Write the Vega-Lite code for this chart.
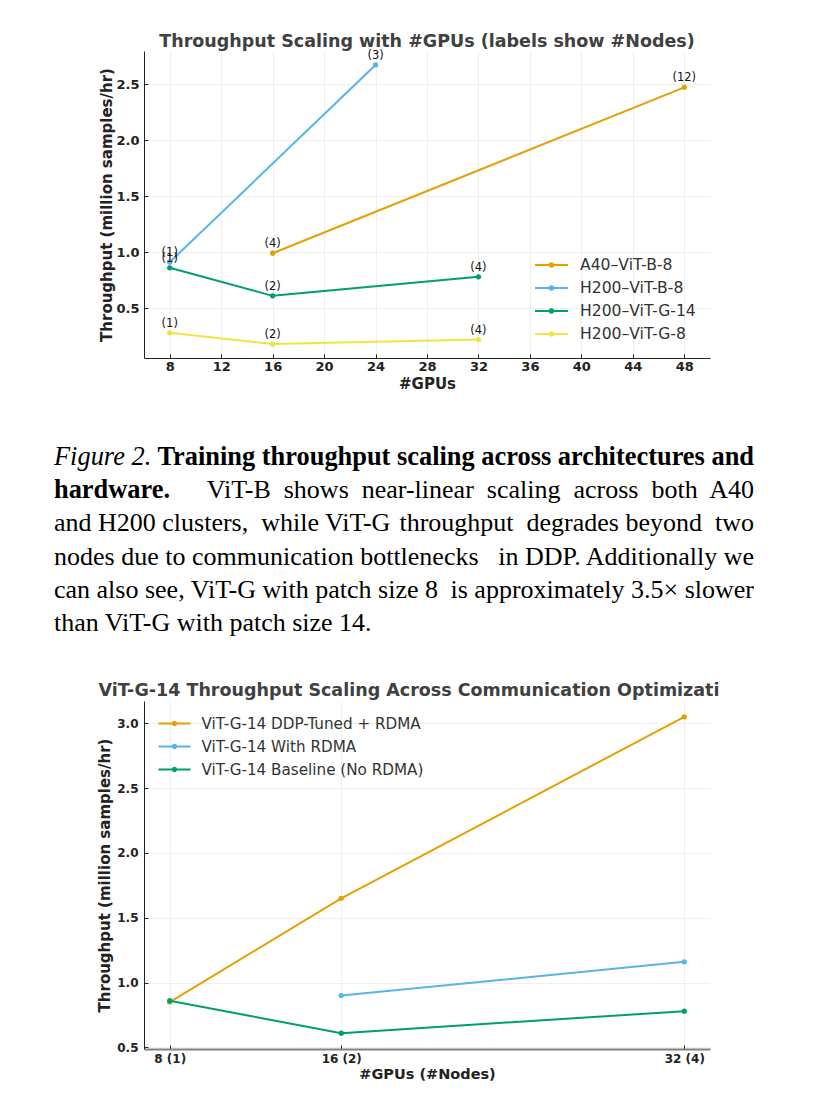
{
  "$schema": "https://vega.github.io/schema/vega-lite/v6.json",
  "background": "white",
  "padding": {"left": 54, "top": 33, "right": 0, "bottom": 0},
  "autosize": {"type": "pad"},
  "bounds": "flush",
  "spacing": 20,
  "resolve": {"scale": {"color": "independent"}, "legend": {"color": "independent"}},
  "datasets": {
    "top": [
      {"config": "A40–ViT-B-8", "gpus": 16, "thr": 0.99, "label": "(4)"},
      {"config": "A40–ViT-B-8", "gpus": 48, "thr": 2.47, "label": "(12)"},
      {"config": "H200–ViT-B-8", "gpus": 8, "thr": 0.91, "label": "(1)"},
      {"config": "H200–ViT-B-8", "gpus": 24, "thr": 2.67, "label": "(3)"},
      {"config": "H200–ViT-G-14", "gpus": 8, "thr": 0.86, "label": "(1)"},
      {"config": "H200–ViT-G-14", "gpus": 16, "thr": 0.61, "label": "(2)"},
      {"config": "H200–ViT-G-14", "gpus": 32, "thr": 0.78, "label": "(4)"},
      {"config": "H200–ViT-G-8", "gpus": 8, "thr": 0.28, "label": "(1)"},
      {"config": "H200–ViT-G-8", "gpus": 16, "thr": 0.18, "label": "(2)"},
      {"config": "H200–ViT-G-8", "gpus": 32, "thr": 0.22, "label": "(4)"}
    ],
    "caption": [
      {"line": 1, "side": "left", "role": "label", "text": "Figure 2."},
      {"line": 1, "side": "right", "role": "title", "text": "Training throughput scaling across architectures and"},
      {"line": 2, "side": "left", "role": "title", "text": "hardware."},
      {"line": 2, "side": "right", "role": "body", "text": "ViT-B\u00a0 shows\u00a0 near-linear\u00a0 scaling\u00a0 across\u00a0 both\u00a0 A40"},
      {"line": 3, "side": "left", "role": "body", "text": "and H200 clusters,\u00a0 while ViT-G"},
      {"line": 3, "side": "right", "role": "body", "text": "throughput\u00a0 degrades beyond\u00a0 two"},
      {"line": 4, "side": "left", "role": "body", "text": "nodes due to communication bottlenecks"},
      {"line": 4, "side": "right", "role": "body", "text": "in DDP. Additionally we"},
      {"line": 5, "side": "left", "role": "body", "text": "can also see, ViT-G with patch size 8"},
      {"line": 5, "side": "right", "role": "body", "text": "is approximately 3.5× slower"},
      {"line": 6, "side": "left", "role": "body", "text": "than ViT-G with patch size 14."}
    ],
    "bottom": [
      {"config": "ViT-G-14 DDP-Tuned + RDMA", "gpus": 8, "thr": 0.85},
      {"config": "ViT-G-14 DDP-Tuned + RDMA", "gpus": 16, "thr": 1.65},
      {"config": "ViT-G-14 DDP-Tuned + RDMA", "gpus": 32, "thr": 3.05},
      {"config": "ViT-G-14 With RDMA", "gpus": 16, "thr": 0.90},
      {"config": "ViT-G-14 With RDMA", "gpus": 32, "thr": 1.16},
      {"config": "ViT-G-14 Baseline (No RDMA)", "gpus": 8, "thr": 0.86},
      {"config": "ViT-G-14 Baseline (No RDMA)", "gpus": 16, "thr": 0.61},
      {"config": "ViT-G-14 Baseline (No RDMA)", "gpus": 32, "thr": 0.78}
    ]
  },
  "vconcat": [
    {
      "width": 566,
      "height": 307,
      "title": {"text": "Throughput Scaling with #GPUs (labels show #Nodes)", "frame": "group", "anchor": "middle", "offset": -1, "fontSize": 17.5, "font": "DejaVu Sans", "fontWeight": "bold", "color": "#404040"},
      "data": {"name": "top"},
      "encoding": {
        "x": {"field": "gpus", "type": "quantitative", "scale": {"domain": [6, 50], "nice": false, "zero": false},
              "axis": {"values": [8, 12, 16, 20, 24, 28, 32, 36, 40, 44, 48], "title": "#GPUs", "labelFontSize": 13, "titleFontSize": 15, "labelPadding": 6, "titlePadding": 3}},
        "y": {"field": "thr", "type": "quantitative", "scale": {"domain": [0.0555, 2.7945], "nice": false, "zero": false},
              "axis": {"values": [0.5, 1, 1.5, 2, 2.5], "format": ".1f", "title": "Throughput (million samples/hr)", "labelFontSize": 13, "titleFontSize": 15, "labelPadding": 9, "titlePadding": 1}},
        "color": {"field": "config", "type": "nominal",
                  "scale": {"domain": ["A40–ViT-B-8", "H200–ViT-B-8", "H200–ViT-G-14", "H200–ViT-G-8"], "range": ["#E69F00", "#56B4E9", "#009E73", "#F0E442"]},
                  "legend": {"title": null, "orient": "none", "legendX": 393.5, "legendY": 200, "symbolType": "M-1.269,0H1.269M-0.127,0A0.127,0.127 0 1,0 0.127,0A0.127,0.127 0 1,0 -0.127,0", "symbolSize": 676, "symbolStrokeWidth": 2, "labelFontSize": 15.6, "labelOffset": 14.5, "labelLimit": 400, "labelColor": "#333", "padding": 0, "rowPadding": 0}}
      },
      "layer": [
        {"mark": {"type": "line", "strokeWidth": 2}},
        {"mark": {"type": "circle", "size": 28, "opacity": 1}},
        {"mark": {"type": "text", "dy": -9, "fontSize": 11.5, "font": "DejaVu Sans"}, "encoding": {"text": {"field": "label"}, "color": {"value": "#111111"}}}
      ]
    },
    {
      "width": 566,
      "height": 303,
      "data": {"name": "caption"},
      "encoding": {
        "x": {"field": "side", "type": "nominal", "scale": {"type": "point", "domain": ["left", "right"], "range": [-90, 610], "padding": 0}, "axis": null},
        "y": {"field": "line", "type": "quantitative", "scale": {"domain": [1, 6], "range": [87, 253]}, "axis": null},
        "text": {"field": "text"}
      },
      "layer": [
        {"transform": [{"filter": "datum.role === 'label'"}], "mark": {"type": "text", "align": "left", "baseline": "alphabetic", "font": "Liberation Serif", "fontSize": 26.4, "fontStyle": "italic", "color": "#000000"}},
        {"transform": [{"filter": "datum.role === 'title' && datum.side === 'left'"}], "mark": {"type": "text", "align": "left", "baseline": "alphabetic", "font": "Liberation Serif", "fontSize": 26.4, "fontWeight": "bold", "color": "#000000"}},
        {"transform": [{"filter": "datum.role === 'title' && datum.side === 'right'"}], "mark": {"type": "text", "align": "right", "baseline": "alphabetic", "font": "Liberation Serif", "fontSize": 26.4, "fontWeight": "bold", "color": "#000000"}},
        {"transform": [{"filter": "datum.role === 'body' && datum.side === 'left'"}], "mark": {"type": "text", "align": "left", "baseline": "alphabetic", "font": "Liberation Serif", "fontSize": 26, "color": "#000000"}},
        {"transform": [{"filter": "datum.role === 'body' && datum.side === 'right'"}], "mark": {"type": "text", "align": "right", "baseline": "alphabetic", "font": "Liberation Serif", "fontSize": 26, "color": "#000000"}}
      ]
    },
    {
      "width": 566,
      "height": 348,
      "title": {"text": "ViT-G-14 Throughput Scaling Across Communication Optimizati", "frame": "group", "anchor": "middle", "dx": -18, "offset": 2, "fontSize": 17.5, "font": "DejaVu Sans", "fontWeight": "bold", "color": "#404040"},
      "data": {"name": "bottom"},
      "encoding": {
        "x": {"field": "gpus", "type": "quantitative", "scale": {"domain": [6.8, 33.2], "nice": false, "zero": false},
              "axis": {"values": [8, 16, 32], "labelExpr": "datum.value == 8 ? '8 (1)' : datum.value == 16 ? '16 (2)' : '32 (4)'", "title": "#GPUs (#Nodes)", "domainColor": "#808080", "domainWidth": 2, "labelFontSize": 12, "titleFontSize": 14.5, "labelPadding": 8, "titlePadding": 3}},
        "y": {"field": "thr", "type": "quantitative", "scale": {"domain": [0.488, 3.172], "nice": false, "zero": false},
              "axis": {"values": [0.5, 1, 1.5, 2, 2.5, 3], "format": ".1f", "title": "Throughput (million samples/hr)", "labelFontSize": 12, "titleFontSize": 15, "labelPadding": 10, "titlePadding": 4}},
        "color": {"field": "config", "type": "nominal",
                  "scale": {"domain": ["ViT-G-14 DDP-Tuned + RDMA", "ViT-G-14 With RDMA", "ViT-G-14 Baseline (No RDMA)"], "range": ["#E69F00", "#56B4E9", "#009E73"]},
                  "legend": {"title": null, "orient": "none", "legendX": 16, "legendY": 8, "symbolType": "M-1.208,0H1.208M-0.125,0A0.125,0.125 0 1,0 0.125,0A0.125,0.125 0 1,0 -0.125,0", "symbolSize": 702, "symbolStrokeWidth": 2, "labelFontSize": 15.2, "labelOffset": 12.5, "labelLimit": 400, "labelColor": "#333", "padding": 0, "rowPadding": 0}}
      },
      "layer": [
        {"mark": {"type": "line", "strokeWidth": 2}},
        {"mark": {"type": "circle", "size": 28, "opacity": 1}}
      ]
    }
  ],
  "config": {
    "font": "DejaVu Sans",
    "view": {"stroke": null},
    "axis": {"labelFont": "DejaVu Sans", "labelFontWeight": "bold", "labelColor": "#222222", "titleFont": "DejaVu Sans", "titleFontWeight": "bold", "titleColor": "#222222", "gridColor": "#ebebeb", "gridWidth": 0.8, "domainColor": "#222222", "domainWidth": 1, "tickColor": "#222222", "tickSize": -4, "tickWidth": 1},
    "legend": {"labelFont": "DejaVu Sans"}
  }
}
